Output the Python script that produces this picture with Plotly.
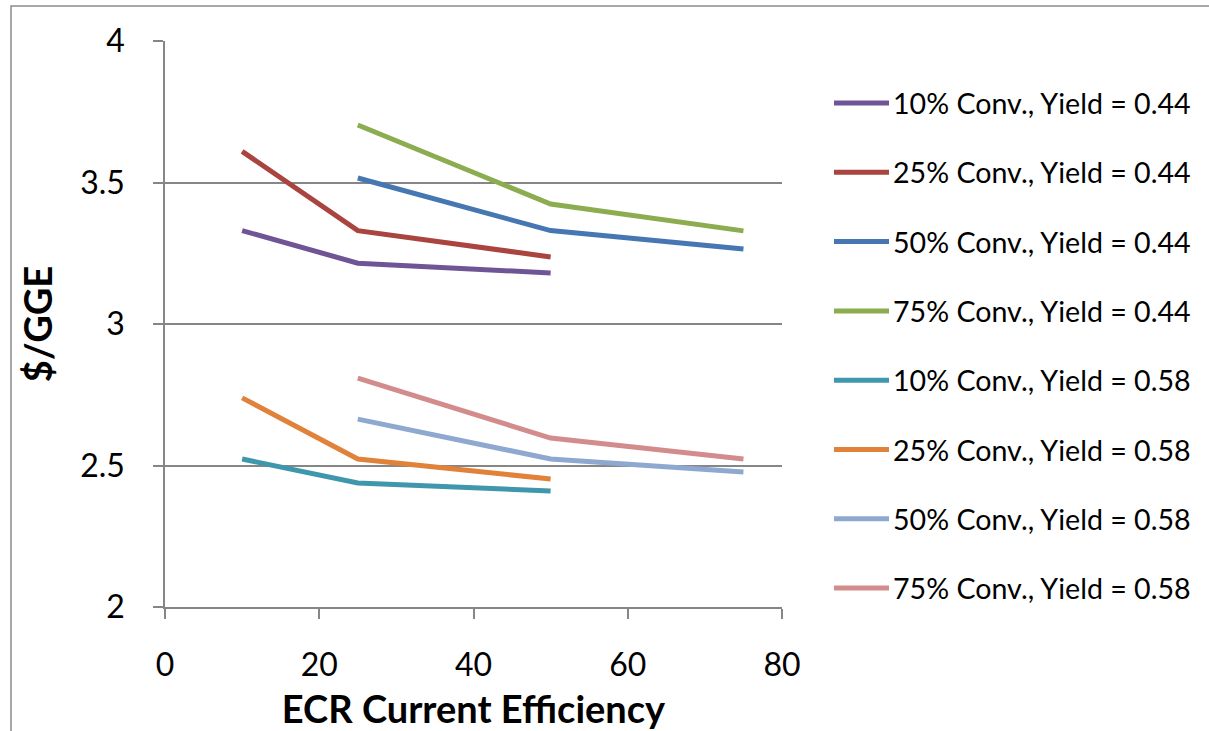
import plotly.graph_objects as go

x_10 = [10, 25, 50]
x_25 = [10, 25, 50]
x_50 = [25, 50, 75]
x_75 = [25, 50, 75]

y44_10 = [3.33, 3.215, 3.18]
y44_25 = [3.61, 3.33, 3.237]
y44_50 = [3.516, 3.33, 3.265]
y44_75 = [3.703, 3.424, 3.329]
y58_10 = [2.523, 2.438, 2.41]
y58_25 = [2.739, 2.523, 2.452]
y58_50 = [2.664, 2.523, 2.477]
y58_75 = [2.809, 2.597, 2.523]

names = ["10% Conv., Yield = 0.44", "25% Conv., Yield = 0.44",
         "50% Conv., Yield = 0.44", "75% Conv., Yield = 0.44",
         "10% Conv., Yield = 0.58", "25% Conv., Yield = 0.58",
         "50% Conv., Yield = 0.58", "75% Conv., Yield = 0.58"]
xs = [x_10, x_25, x_50, x_75, x_10, x_25, x_50, x_75]
ys = [y44_10, y44_25, y44_50, y44_75, y58_10, y58_25, y58_50, y58_75]
colors = ["#6F5596", "#A9443F", "#4677B3", "#8BAD4F",
          "#3F97AD", "#E0823A", "#8FA8D0", "#D38C8C"]

x_ticks = [0, 20, 40, 60, 80]
y_ticks = [2, 2.5, 3, 3.5, 4]
y_tick_text = ["2", "2.5", "3", "3.5", "4"]

FONT = "Lato"
fig = go.Figure()
for n, x, y, c in zip(names, xs, ys, colors):
    fig.add_trace(go.Scatter(x=x, y=y, name=n, mode="lines",
                             line=dict(color=c, width=5), showlegend=False))

GRID = "#868686"
L, R, T, B = 165, 782, 41, 607
W, H = 1209, 731
PW, PH = R - L, B - T


def px_x(p):
    return (p - L) / PW


def px_y(p):
    return (B - p) / PH


fig.update_layout(
    width=W, height=H,
    margin=dict(l=L, r=W - R, t=T, b=H - B, pad=0),
    paper_bgcolor="white", plot_bgcolor="white",
    font=dict(family=FONT, color="black"),
    showlegend=False,
    xaxis=dict(range=[0, 80], tickvals=x_ticks, showgrid=False, zeroline=False,
               automargin=False,
               showline=True, linecolor=GRID, linewidth=1.5,
               ticks="outside", ticklen=10, tickcolor=GRID, tickwidth=1.5,
               tickfont=dict(size=32, family=FONT), ticklabelstandoff=19,
               title=dict(text="<b>ECR Current Efficiency</b>", font=dict(size=38, family=FONT),
                          standoff=25)),
    yaxis=dict(range=[2, 4], tickvals=y_ticks, ticktext=y_tick_text, showgrid=True,
               automargin=False,
               gridcolor=GRID, gridwidth=1.5, zeroline=False,
               showline=True, linecolor=GRID, linewidth=1.5,
               ticks="outside", ticklen=10, tickcolor=GRID, tickwidth=1.5,
               tickfont=dict(size=32, family=FONT), ticklabelstandoff=22,
               title=dict(text="<b>$/GGE</b>", font=dict(size=38, family=FONT), standoff=16)),
)

# manual legend (line sample + label), positioned like the original
LEG_TOP = 103
LEG_STEP = 69.3
for i, (n, c) in enumerate(zip(names, colors)):
    yy = px_y(LEG_TOP + i * LEG_STEP)
    fig.add_shape(type="line", xref="paper", yref="paper",
                  x0=px_x(834), x1=px_x(889), y0=yy, y1=yy,
                  line=dict(color=c, width=5))
    fig.add_annotation(xref="paper", yref="paper", x=px_x(891), y=yy,
                       xanchor="left", yanchor="middle", showarrow=False,
                       text=n, font=dict(size=28.6, family=FONT, color="black"))

# outer chart-area border (extends past the right and bottom edges)
fig.add_shape(type="rect", xref="paper", yref="paper",
              x0=px_x(11), x1=px_x(1230), y0=px_y(760), y1=px_y(6),
              line=dict(color="#8C8C8C", width=1.5), fillcolor="rgba(0,0,0,0)", layer="below")

fig.write_html("out.html")
